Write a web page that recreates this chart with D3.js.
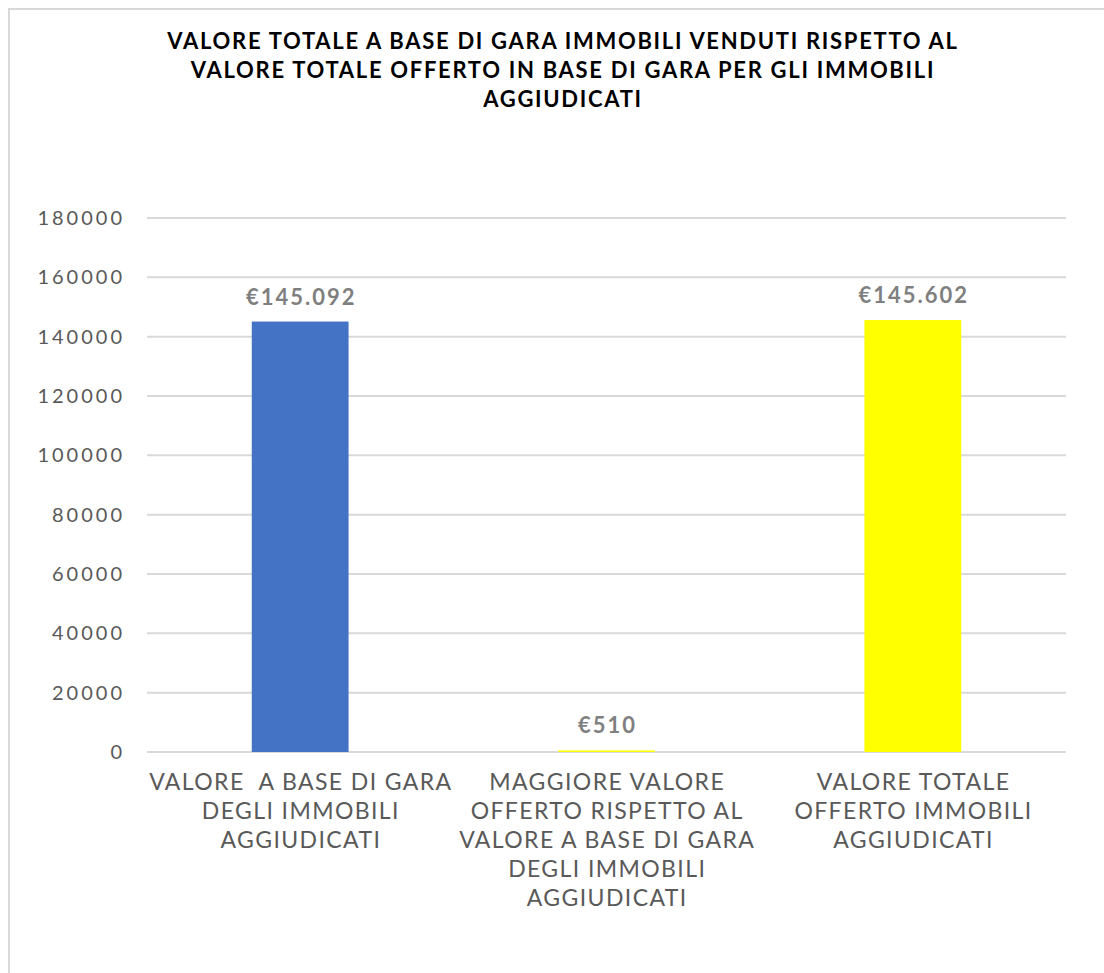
<!DOCTYPE html>
<html>
<head>
<meta charset="utf-8">
<script src="https://cdn.jsdelivr.net/npm/d3@7"></script>
<style>
  body { margin: 0; background: #fff; }
  svg { display: block; }
  text { white-space: pre; }
</style>
</head>
<body>
<svg id="chart" width="1104" height="973"></svg>
<script>
// Categories, values and formatting
const categories = [
  "VALORE  A BASE DI GARA DEGLI IMMOBILI AGGIUDICATI",
  "MAGGIORE VALORE OFFERTO RISPETTO AL VALORE A BASE DI GARA DEGLI IMMOBILI AGGIUDICATI",
  "VALORE TOTALE OFFERTO IMMOBILI AGGIUDICATI"
];
const categoryLines = [
  ["VALORE  A BASE DI GARA", "DEGLI IMMOBILI", "AGGIUDICATI"],
  ["MAGGIORE VALORE", "OFFERTO RISPETTO AL", "VALORE A BASE DI GARA", "DEGLI IMMOBILI", "AGGIUDICATI"],
  ["VALORE TOTALE", "OFFERTO IMMOBILI", "AGGIUDICATI"]
];
const values = [145092, 510, 145602];
const valueLabels = ["€145.092", "€510", "€145.602"];
const barColors = ["#4472C4", "#FFFF00", "#FFFF00"];
const yTicks = [0, 20000, 40000, 60000, 80000, 100000, 120000, 140000, 160000, 180000];
const titleLines = [
  "VALORE TOTALE A BASE DI GARA IMMOBILI VENDUTI RISPETTO AL",
  "VALORE TOTALE OFFERTO IN BASE DI GARA PER GLI IMMOBILI",
  "AGGIUDICATI"
];

const svg = d3.select("#chart");
const font = "Lato, 'Open Sans', sans-serif";

// outer frame (runs off the right and bottom edges)
svg.append("path")
  .attr("d", "M9,1200 V9 H1200")
  .attr("fill", "none")
  .attr("stroke", "#d9d9d9")
  .attr("stroke-width", 2);

const plot = { left: 147, right: 1066, top: 218, bottom: 752 };

const x = d3.scaleBand()
  .domain(categories)
  .range([plot.left, plot.right])
  .paddingInner(0.684)
  .paddingOuter(0.342);

const y = d3.scaleLinear()
  .domain([0, 180000])
  .range([plot.bottom, plot.top]);

// title
svg.append("g")
  .selectAll("text")
  .data(titleLines)
  .join("text")
  .attr("x", 563)
  .attr("y", (d, i) => 49 + i * 29)
  .attr("text-anchor", "middle")
  .attr("font-family", font)
  .attr("font-weight", 700)
  .attr("font-size", 22)
  .attr("letter-spacing", 1.7)
  .attr("fill", "#000")
  .text(d => d);

// gridlines
svg.append("g")
  .selectAll("line")
  .data(yTicks)
  .join("line")
  .attr("x1", plot.left)
  .attr("x2", plot.right)
  .attr("y1", d => y(d))
  .attr("y2", d => y(d))
  .attr("stroke", "#d9d9d9")
  .attr("stroke-width", 2);

// y axis labels
const yAxis = d3.axisLeft(y).tickValues(yTicks).tickSize(0).tickPadding(22).tickFormat(d3.format("d"));
svg.append("g")
  .attr("transform", `translate(${plot.left},0)`)
  .call(yAxis)
  .call(g => g.select(".domain").remove())
  .call(g => g.selectAll("text")
    .attr("font-family", font)
    .attr("font-size", 20)
    .attr("letter-spacing", 3)
    .attr("fill", "#595959"));

// bars
svg.append("g")
  .selectAll("rect")
  .data(values)
  .join("rect")
  .attr("x", (d, i) => x(categories[i]))
  .attr("width", x.bandwidth())
  .attr("y", d => y(d))
  .attr("height", d => y(0) - y(d))
  .attr("fill", (d, i) => barColors[i]);

// value labels
svg.append("g")
  .selectAll("text")
  .data(values)
  .join("text")
  .attr("x", (d, i) => x(categories[i]) + x.bandwidth() / 2 + 1)
  .attr("y", d => y(d) - 17)
  .attr("text-anchor", "middle")
  .attr("font-family", font)
  .attr("font-weight", 700)
  .attr("font-size", 22)
  .attr("letter-spacing", 2)
  .attr("fill", "#7f7f7f")
  .text((d, i) => valueLabels[i]);

// category labels
const cat = svg.append("g")
  .selectAll("text")
  .data(categories)
  .join("text")
  .attr("x", d => x(d) + x.bandwidth() / 2)
  .attr("text-anchor", "middle")
  .attr("font-family", font)
  .attr("font-size", 23)
  .attr("letter-spacing", 1.4)
  .attr("fill", "#595959");
cat.each(function(d, i) {
  d3.select(this).selectAll("tspan")
    .data(categoryLines[i])
    .join("tspan")
    .attr("x", x(d) + x.bandwidth() / 2 + 0.7)
    .attr("y", (t, j) => 790 + j * 29)
    .text(t => t);
});
</script>
</body>
</html>
